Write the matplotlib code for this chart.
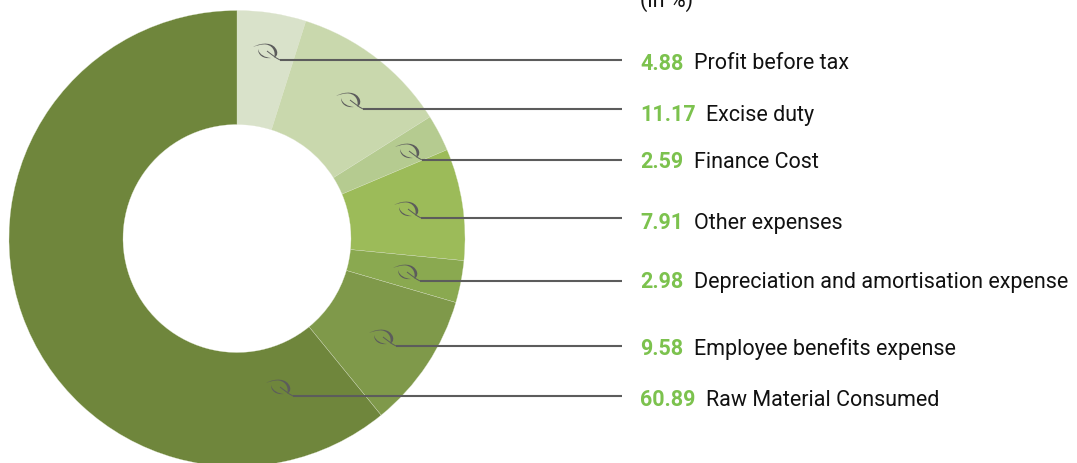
import matplotlib
matplotlib.use("Agg")
import matplotlib.pyplot as plt
from matplotlib.patches import PathPatch
from matplotlib.path import Path

values = [4.88, 11.17, 2.59, 7.91, 2.98, 9.58, 60.89]
value_labels = ["4.88", "11.17", "2.59", "7.91", "2.98", "9.58", "60.89"]
categories = ["Profit before tax", "Excise duty", "Finance Cost", "Other expenses",
              "Depreciation and amortisation expense", "Employee benefits expense",
              "Raw Material Consumed"]
colors = ["#d9e2ca", "#c9d8ad", "#b5cb90", "#9cbb59", "#8aa950", "#7f994a", "#6f863c"]
line_y = [61, 110, 161, 219, 282, 347, 397]
line_x = [280, 363, 422, 421, 420, 396, 293]
text_y = [63.5, 115, 162, 223.5, 282.5, 349, 400.5]
label_x = [694, 706, 694, 694, 694, 694, 706]

W, H = 1077, 464
fig = plt.figure(figsize=(W / 100, H / 100), dpi=100, facecolor="white")
ax = fig.add_axes([0, 0, 1, 1])
ax.pie(values, colors=colors, startangle=90, counterclock=False, radius=228,
       center=(237, H - 239.5), wedgeprops=dict(width=114, edgecolor="#dfe6cf", linewidth=0.2))
ax.set_xlim(0, W)
ax.set_ylim(0, H)
ax.set_aspect("equal")
ax.axis("off")

GREY = "#5c5c5c"
M, C = Path.MOVETO, Path.CURVE4

def leaf(sx, sy):
    def p(dx, dy):
        return (sx + dx, H - (sy + dy))
    # upper arc: thin at the tip, thicker on the right
    top = [p(-27, -13), p(-18, -18), p(-6, -18), p(-3, -9), p(-2, -5), p(-4, -3), p(-6, -2.5),
           p(-4.5, -5), p(-5, -14), p(-14, -15.5), p(-18, -16), p(-23, -14.5), p(-27, -13)]
    ax.add_patch(PathPatch(Path(top, [M] + [C] * 12), fc=GREY, ec="none", zorder=4))
    # lower arc: fine hairline
    low = [p(-22, -11), p(-22, -5), p(-17, -1), p(-9, -2), p(-15, -2.6), p(-20.5, -5), p(-22, -11)]
    ax.add_patch(PathPatch(Path(low, [M] + [C] * 6), fc=GREY, ec="none", zorder=4))
    # short vein leading to the stem
    vein = [p(-13, -9), p(-9, -6), p(-5, -2.5), p(0, 0)]
    ax.add_patch(PathPatch(Path(vein, [M, C, C, C]), fc="none", ec=GREY, lw=0.7, zorder=4))

for lx, ly, ty, lb, val, cat in zip(line_x, line_y, text_y, label_x, value_labels, categories):
    ax.plot([lx, 622], [H - ly, H - ly], color=GREY, lw=1.5, solid_capstyle="butt", zorder=4)
    leaf(lx, ly)
    ax.text(640, H - ty, val, family="Roboto", fontweight="bold", fontsize=15.5, color="#7cc24e",
            va="center", ha="left")
    ax.text(lb, H - ty, cat, family="Roboto", fontsize=15.5, color="#111111", va="center", ha="left")

ax.text(640, H - 1, "(in %)", family="Roboto", fontsize=15.5, color="#111111", va="center", ha="left")
ax.set_xlim(0, W)
ax.set_ylim(0, H)
fig.savefig("out.png", dpi=100, facecolor="white")
